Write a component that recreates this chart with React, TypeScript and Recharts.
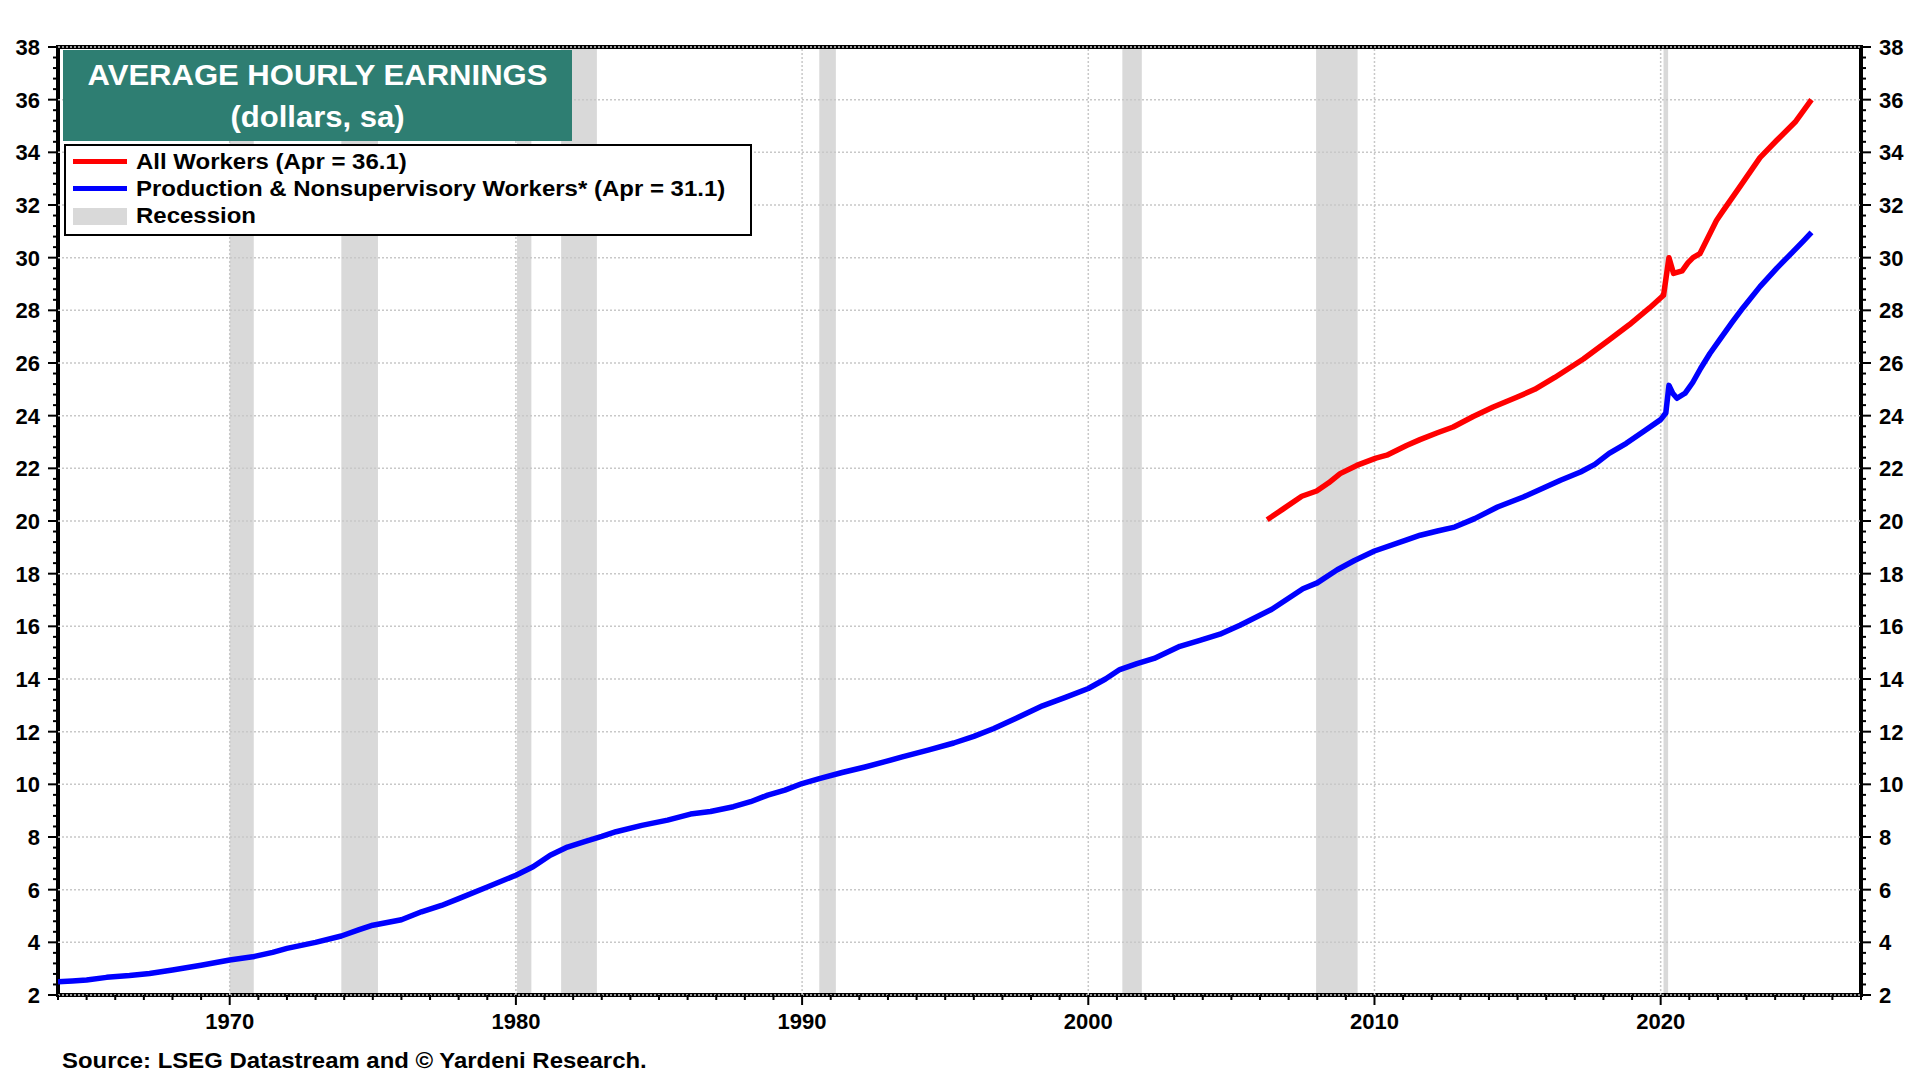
import { LineChart, Line, XAxis, YAxis, ReferenceLine, ReferenceArea } from 'recharts'

// Production & nonsupervisory workers, dollars
const blueYears = [
  1964.0, 1964.5, 1965.0, 1965.7, 1966.5, 1967.2, 1968.0, 1969.0, 1970.0, 1970.8,
  1971.5, 1972.0, 1973.0, 1973.9, 1974.5, 1975.0, 1976.0, 1976.7, 1977.4, 1978.0,
  1979.0, 1980.0, 1980.6, 1981.2, 1981.8, 1982.4, 1983.0, 1983.5, 1984.4, 1985.3,
  1986.1, 1986.8, 1987.6, 1988.2, 1988.8, 1989.4, 1990.0, 1990.6, 1991.4, 1992.2,
  1992.9, 1993.5, 1994.4, 1995.3, 1996.0, 1996.7, 1997.5, 1998.4, 1999.2, 2000.0,
  2000.6, 2001.1, 2001.7, 2002.3, 2003.2, 2003.9, 2004.6, 2005.3, 2006.4, 2007.5,
  2008.0, 2008.7, 2009.3, 2010.0, 2011.1, 2011.6, 2012.2, 2012.8, 2013.5, 2014.3,
  2015.2, 2015.9, 2016.5, 2017.2, 2017.7, 2018.2, 2018.8, 2019.4, 2020.0, 2020.18,
  2020.29, 2020.42, 2020.57, 2020.85, 2021.12, 2021.4, 2021.72, 2022.07, 2022.5, 2022.88,
  2023.47, 2024.06, 2024.6, 2025.0, 2025.27,
]
const blueValues = [
  2.5, 2.53, 2.57, 2.67, 2.74, 2.82, 2.95, 3.13, 3.33, 3.45,
  3.62, 3.77, 4.0, 4.24, 4.47, 4.65, 4.86, 5.16, 5.4, 5.66,
  6.1, 6.55, 6.87, 7.31, 7.62, 7.82, 8.02, 8.2, 8.44, 8.64,
  8.87, 8.97, 9.15, 9.34, 9.59, 9.78, 10.03, 10.22, 10.45, 10.66,
  10.86, 11.04, 11.3, 11.57, 11.82, 12.12, 12.52, 12.98, 13.3, 13.64,
  14.0, 14.36, 14.58, 14.78, 15.24, 15.47, 15.7, 16.04, 16.64, 17.43,
  17.65, 18.15, 18.5, 18.86, 19.27, 19.46, 19.62, 19.77, 20.09, 20.53,
  20.91, 21.25, 21.55, 21.86, 22.15, 22.57, 22.95, 23.4, 23.85, 24.1,
  25.15, 24.85, 24.66, 24.85, 25.26, 25.8, 26.36, 26.9, 27.55, 28.1,
  28.9, 29.6, 30.2, 30.65, 30.96,
]

// All workers, dollars
const redYears = [
  2006.25, 2006.8, 2007.46, 2007.98, 2008.4, 2008.8, 2009.38, 2010.05, 2010.43, 2011.12,
  2011.59, 2012.2, 2012.75, 2013.45, 2014.15, 2014.97, 2015.6, 2016.3, 2017.3, 2018.23,
  2018.9, 2019.62, 2020.1, 2020.29, 2020.45, 2020.75, 2020.95, 2021.13, 2021.37, 2021.95,
  2022.13, 2022.77, 2023.47, 2024.05, 2024.7, 2025.27,
]
const redValues = [
  20.05, 20.45, 20.94, 21.14, 21.45, 21.8, 22.11, 22.39, 22.5, 22.87,
  23.09, 23.35, 23.57, 23.97, 24.33, 24.7, 25.0, 25.45, 26.15, 26.9,
  27.45, 28.1, 28.57, 30.0, 29.4, 29.5, 29.8, 30.0, 30.15, 31.41,
  31.7, 32.7, 33.8, 34.45, 35.15, 36.0,
]

const recessionStarts = [1970.0, 1973.9, 1980.04, 1981.58, 1990.6, 2001.19, 2007.96, 2020.1]
const recessionEnds = [1970.84, 1975.18, 1980.54, 1982.83, 1991.18, 2001.87, 2009.41, 2020.26]

const yLabels = [2, 4, 6, 8, 10, 12, 14, 16, 18, 20, 22, 24, 26, 28, 30, 32, 34, 36, 38]
const xLabels = [1970, 1980, 1990, 2000, 2010, 2020]

const blueData = blueYears.map((x, i) => ({ x, y: blueValues[i] }))
const redData = redYears.map((x, i) => ({ x, y: redValues[i] }))

// minor ticks: 4 between each labelled value on y, every year on x
const yTicks: number[] = []
for (let i = 0; i <= 90; i++) yTicks.push(Math.round((2 + i * 0.4) * 10) / 10)
const xTicks: number[] = []
for (let yr = 1964; yr <= 2027; yr++) xTicks.push(yr)

const FONT = '"Liberation Sans", Arial, Helvetica, sans-serif'
const GRID = '#c8c8c8'

const isMajorY = (v: number) => yLabels.includes(v)

function LeftTick(p: any) {
  const v = p.payload.value
  const major = isMajorY(v)
  return (
    <g>
      <line x1={p.x} x2={p.x - (major ? 10 : 5)} y1={p.y} y2={p.y} stroke="#000" strokeWidth={2} />
      {major && (
        <text x={p.x - 18} y={p.y} dy="0.36em" textAnchor="end" fontFamily={FONT} fontWeight="bold" fontSize={22} fill="#000">
          {v}
        </text>
      )}
    </g>
  )
}

function RightTick(p: any) {
  const v = p.payload.value
  const major = isMajorY(v)
  return (
    <g>
      <line x1={p.x} x2={p.x + (major ? 10 : 5)} y1={p.y} y2={p.y} stroke="#000" strokeWidth={2} />
      {major && (
        <text x={p.x + 18} y={p.y} dy="0.36em" textAnchor="start" fontFamily={FONT} fontWeight="bold" fontSize={22} fill="#000">
          {v}
        </text>
      )}
    </g>
  )
}

function BottomTick(p: any) {
  const v = p.payload.value
  const major = xLabels.includes(v)
  return (
    <g>
      <line x1={p.x} x2={p.x} y1={p.y} y2={p.y + (major ? 10 : 5)} stroke="#000" strokeWidth={2} />
      {major && (
        <text x={p.x} y={p.y + 34} textAnchor="middle" fontFamily={FONT} fontWeight="bold" fontSize={22} fill="#000">
          {v}
        </text>
      )}
    </g>
  )
}

const legendText = {
  position: 'absolute' as const,
  left: 69.5,
  lineHeight: '24px',
  whiteSpace: 'nowrap' as const,
  transform: 'scaleX(1.09)',
  transformOrigin: 'left center',
}

export default function App() {
  return (
    <div style={{ position: 'absolute', left: 0, top: 0, width: 1920, height: 1080, background: '#fff', fontFamily: FONT }}>
      <LineChart width={1920} height={1080} margin={{ top: 47, right: 0, bottom: 0, left: 0 }}>
        <XAxis
          type="number"
          dataKey="x"
          domain={[1964, 2027]}
          allowDataOverflow
          ticks={xTicks}
          interval={0}
          height={85}
          axisLine={false}
          tickLine={false}
          tickSize={0}
          tickMargin={0}
          tick={BottomTick}
        />
        <YAxis
          yAxisId="left"
          type="number"
          domain={[2, 38]}
          allowDataOverflow
          ticks={yTicks}
          interval={0}
          width={58}
          axisLine={false}
          tickLine={false}
          tickSize={0}
          tickMargin={0}
          tick={LeftTick}
        />
        <YAxis
          yAxisId="right"
          orientation="right"
          type="number"
          domain={[2, 38]}
          allowDataOverflow
          ticks={yTicks}
          interval={0}
          width={59}
          axisLine={false}
          tickLine={false}
          tickSize={0}
          tickMargin={0}
          tick={RightTick}
        />

        {yLabels.map((v) => (
          <ReferenceLine key={'gy' + v} yAxisId="left" y={v} stroke={GRID} strokeWidth={1.5} strokeDasharray="2 2" />
        ))}
        {xLabels.map((v) => (
          <ReferenceLine key={'gx' + v} yAxisId="left" x={v} stroke={GRID} strokeWidth={1.5} strokeDasharray="2 2" />
        ))}

        {recessionStarts.map((s, i) => (
          <ReferenceArea
            key={'r' + i}
            yAxisId="left"
            x1={s}
            x2={recessionEnds[i]}
            y1={2}
            y2={38}
            fill="#d9d9d9"
            fillOpacity={1}
            stroke="none"
          />
        ))}

        <Line
          yAxisId="left"
          data={blueData}
          dataKey="y"
          type="linear"
          stroke="#0000ff"
          strokeWidth={5.5}
          strokeLinejoin="round"
          dot={false}
          isAnimationActive={false}
        />
        <Line
          yAxisId="left"
          data={redData}
          dataKey="y"
          type="linear"
          stroke="#ff0000"
          strokeWidth={5.5}
          strokeLinejoin="round"
          dot={false}
          isAnimationActive={false}
        />

        <ReferenceArea yAxisId="left" x1={1964} x2={2027} y1={2} y2={38} fill="none" stroke="#000" strokeWidth={4} />
      </LineChart>

      {/* title box */}
      <div
        style={{
          position: 'absolute',
          left: 63,
          top: 50,
          width: 509,
          height: 91,
          boxSizing: 'border-box',
          paddingTop: 4,
          background: '#2e7e72',
          color: '#fff',
          fontWeight: 'bold',
          fontSize: 29,
          lineHeight: '42px',
          textAlign: 'center',
        }}
      >
        <div style={{ transform: 'scaleX(1.07)' }}>AVERAGE HOURLY EARNINGS</div>
        <div style={{ transform: 'scaleX(1.07)' }}>(dollars, sa)</div>
      </div>

      {/* legend */}
      <div
        style={{
          position: 'absolute',
          left: 64,
          top: 144,
          width: 688,
          height: 92,
          boxSizing: 'border-box',
          border: '2.5px solid #000',
          background: '#fff',
          fontWeight: 'bold',
          fontSize: 22,
          color: '#000',
        }}
      >
        <div style={{ position: 'absolute', left: 6.5, top: 13, width: 54, height: 5, background: '#ff0000' }} />
        <div style={{ position: 'absolute', left: 6.5, top: 40, width: 54, height: 5, background: '#0000ff' }} />
        <div style={{ position: 'absolute', left: 6.5, top: 61.5, width: 54, height: 17, background: '#d9d9d9' }} />
        <div style={{ ...legendText, top: 3.5 }}>All Workers (Apr = 36.1)</div>
        <div style={{ ...legendText, top: 30.5 }}>Production &amp; Nonsupervisory Workers* (Apr = 31.1)</div>
        <div style={{ ...legendText, top: 57.5 }}>Recession</div>
      </div>

      <div
        style={{
          position: 'absolute',
          left: 62,
          top: 1049.5,
          fontWeight: 'bold',
          fontSize: 22,
          lineHeight: '22px',
          color: '#000',
          whiteSpace: 'nowrap',
          transform: 'scaleX(1.087)',
          transformOrigin: 'left center',
        }}
      >
        Source: LSEG Datastream and © Yardeni Research.
      </div>
    </div>
  )
}
